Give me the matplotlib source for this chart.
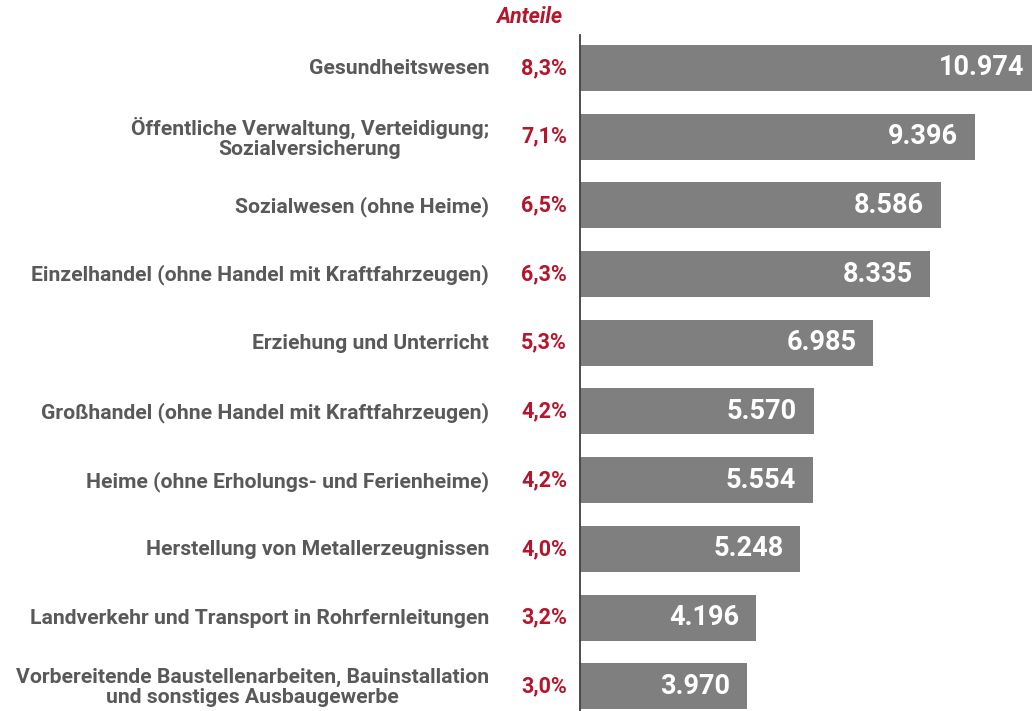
import matplotlib
matplotlib.use("Agg")
import matplotlib.pyplot as plt

categories = [
    "Gesundheitswesen",
    "Öffentliche Verwaltung, Verteidigung;\nSozialversicherung",
    "Sozialwesen (ohne Heime)",
    "Einzelhandel (ohne Handel mit Kraftfahrzeugen)",
    "Erziehung und Unterricht",
    "Großhandel (ohne Handel mit Kraftfahrzeugen)",
    "Heime (ohne Erholungs- und Ferienheime)",
    "Herstellung von Metallerzeugnissen",
    "Landverkehr und Transport in Rohrfernleitungen",
    "Vorbereitende Baustellenarbeiten, Bauinstallation\nund sonstiges Ausbaugewerbe",
]
values = [10974, 9396, 8586, 8335, 6985, 5570, 5554, 5248, 4196, 3970]
value_labels = ["10.974", "9.396", "8.586", "8.335", "6.985", "5.570", "5.554", "5.248", "4.196", "3.970"]
shares = ["8,3%", "7,1%", "6,5%", "6,3%", "5,3%", "4,2%", "4,2%", "4,0%", "3,2%", "3,0%"]

GRAY_BAR = "#7f7f7f"
GRAY_TXT = "#595959"
RED = "#b5162b"
FONT = "Roboto"

W, H = 1032, 711
fig = plt.figure(figsize=(W / 100, H / 100), dpi=100)
ax_left = 580 / W
ax = fig.add_axes([ax_left, 0, 1 - ax_left, (H - 35) / H])

xmax = 10760
ax.set_xlim(0, xmax)
ax.set_ylim(9.36, -0.48)
pos = list(range(len(values)))
ax.barh(pos, values, height=0.67, color=GRAY_BAR, zorder=2)

for sp in ["top", "right", "bottom"]:
    ax.spines[sp].set_visible(False)
ax.spines["left"].set_color("#404040")
ax.spines["left"].set_linewidth(1.3)
ax.set_xticks([])
ax.set_yticks([])

for i, (v, lab, sh, cat) in enumerate(zip(values, value_labels, shares, categories)):
    ax.annotate(lab, xy=(v, i), xycoords="data",
                xytext=(-17, 0), textcoords="offset pixels",
                ha="right", va="center", color="white",
                fontsize=19.5, fontweight="bold", family=FONT, zorder=3,
                annotation_clip=False)
    ax.annotate(sh, xy=(0, i), xycoords=("axes fraction", "data"),
                xytext=(-13, 0), textcoords="offset pixels",
                ha="right", va="center", color=RED, fontsize=15.5,
                fontweight="bold", family=FONT, annotation_clip=False)
    ax.annotate(cat, xy=(0, i), xycoords=("axes fraction", "data"),
                xytext=(-91, -1), textcoords="offset pixels",
                ha="right", va="center", color=GRAY_TXT, fontsize=15.2,
                fontweight="bold", family=FONT, annotation_clip=False,
                multialignment="center", linespacing=1.05)

fig.text(529 / W, 1 - 17 / H, "Anteile", ha="center", va="center", color=RED,
         fontsize=15.5, fontweight="bold", fontstyle="italic", family=FONT)

fig.savefig("out.png", dpi=100, facecolor="white")
